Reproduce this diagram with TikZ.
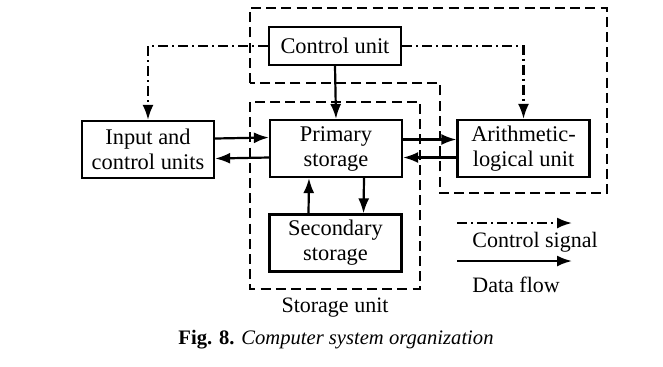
\documentclass[tikz,border=0pt]{standalone}
\usepackage{fontspec}
\setmainfont{Liberation Serif}
\usetikzlibrary{arrows.meta}

\tikzset{
    unit/.style={draw, line width=1.1pt, minimum width=66pt, minimum height=28.5pt,
        inner sep=0pt, align=center, font=\fontsize{11.2}{12.5}\selectfont},
    region/.style={line width=1.1pt, dash pattern=on 5pt off 2.6pt},
    data/.style={line width=1.1pt, -{Latex[length=7.5pt,width=5.5pt]}},
    ctrl/.style={line width=1.1pt, dash pattern=on 5pt off 2pt on 1pt off 2pt,
        -{Latex[length=7.5pt,width=5.5pt]}},
    label/.style={font=\fontsize{11}{12.5}\selectfont, inner sep=0pt}
}

\begin{document}
\begin{tikzpicture}[x=0.5pt, y=-0.5pt]
    \useasboundingbox (0,0) rectangle (663,366);

    % 虚线区域
    \draw[region] (250,83) -- (250,8) -- (607,8) -- (607,193) -- (440,193) -- (440,83) -- cycle;
    \draw[region] (250,102) rectangle (420,289);

    % 各个部件
    \node[unit, minimum height=19pt] (cu) at (335,46) {Control unit};
    \node[unit] (ps) at (336,148.5) {Primary\\storage};
    \node[unit] (alu) at (523.5,148.5) {Arithmetic-\\logical unit};
    \node[unit] (icu) at (148,149.5) {Input and\\control units};
    \node[unit] (ss) at (335.5,243) {Secondary\\storage};

    % 控制信号
    \draw[ctrl] (cu.west) -| (icu.north);
    \draw[ctrl] (cu.east) -| (alu.north);

    % 数据流
    \draw[data] (cu.south) -- (ps.north);
    \draw[data] ([yshift=5.5pt]icu.east) -- ([yshift=5.5pt]ps.west);
    \draw[data] ([yshift=-4.5pt]ps.west) -- ([yshift=-4.5pt]icu.east);
    \draw[data] ([yshift=4.5pt]ps.east) -- ([yshift=4.5pt]alu.west);
    \draw[data] ([yshift=-4.5pt]alu.west) -- ([yshift=-4.5pt]ps.east);
    \draw[data] ([xshift=14pt]ps.south) -- ([xshift=14pt]ss.north);
    \draw[data] ([xshift=-13.5pt]ss.north) -- ([xshift=-13.5pt]ps.south);

    % 图例
    \coordinate (c1) at (457,223);
    \coordinate (c2) at (572,223);
    \coordinate (d1) at (457,261);
    \coordinate (d2) at (572,261);
    \draw[ctrl] (c1) -- (c2);
    \draw[data] (d1) -- (d2);
    \node[label, anchor=west] (cs) at (472,242) {Control signal};
    \node[label, anchor=west] (df) at (472,285) {Data flow};

    % 标题
    \node[label] (su) at (335,308) {Storage unit};
    \node[label, font=\fontsize{10.3}{12}\selectfont] (fig) at (336,340) {\textbf{Fig. 8.} \textit{Computer system organization}};
\end{tikzpicture}
\end{document}
